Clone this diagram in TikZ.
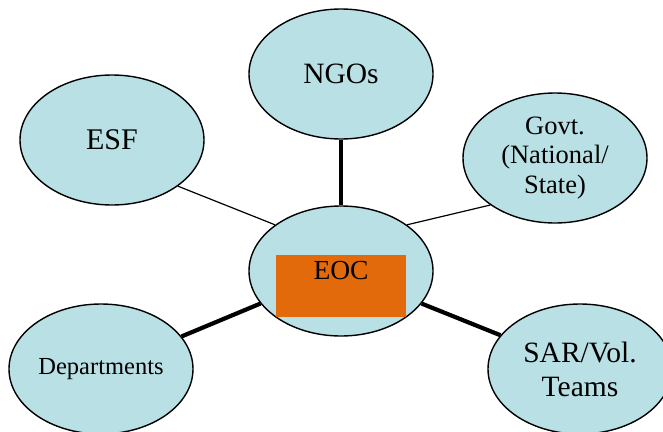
\documentclass[tikz,border=0pt]{standalone}
\usepackage{fontspec}
\setmainfont{Liberation Serif}
\definecolor{hubblue}{RGB}{185, 224, 228}
\definecolor{eocorange}{RGB}{226, 106, 10}
\usetikzlibrary{shapes.geometric}

\begin{document}
\begin{tikzpicture}[x=1pt, y=-1pt,
  agency/.style={draw, ellipse, line width=1.4pt, fill=hubblue, minimum width=184pt, minimum height=130pt, inner sep=0pt, align=center},
  thinlink/.style={line width=1.2pt},
  thicklink/.style={line width=4.2pt}
]
  \useasboundingbox (0, 0) rectangle (663, 431);

  \node[agency, font=\fontsize{29.5}{32}\selectfont] (ngo) at (341, 74) {NGOs};
  \node[agency, font=\fontsize{30}{32}\selectfont] (esf) at (112, 140) {ESF};
  \node[agency, font=\fontsize{26.5}{29.5}\selectfont] (govt) at (555, 158) {Govt.\\(National/\\State)};
  \node[agency] (eoc) at (341, 271) {};
  \node[fill=eocorange, minimum width=130pt, minimum height=62pt, inner sep=0pt] (eocbox) at (341, 286) {};
  \node[font=\fontsize{27.5}{30}\selectfont] (eoclabel) at (eoc.center) {EOC};
  \node[agency, font=\fontsize{24.5}{28}\selectfont] (dept) at (101, 369) {Departments};
  \node[agency, font=\fontsize{29.5}{34}\selectfont] (sar) at (580, 369) {SAR/Vol.\\Teams};

  \draw[thicklink] (ngo.south) -- (eoc.north);
  \draw[thinlink] (esf.-35) -- (eoc.145);
  \draw[thinlink] (govt.-144) -- (eoc.35);
  \draw[thicklink] (dept.22) -- (eoc.-158);
  \draw[thicklink] (sar.157) -- (eoc.-22);
\end{tikzpicture}
\end{document}
